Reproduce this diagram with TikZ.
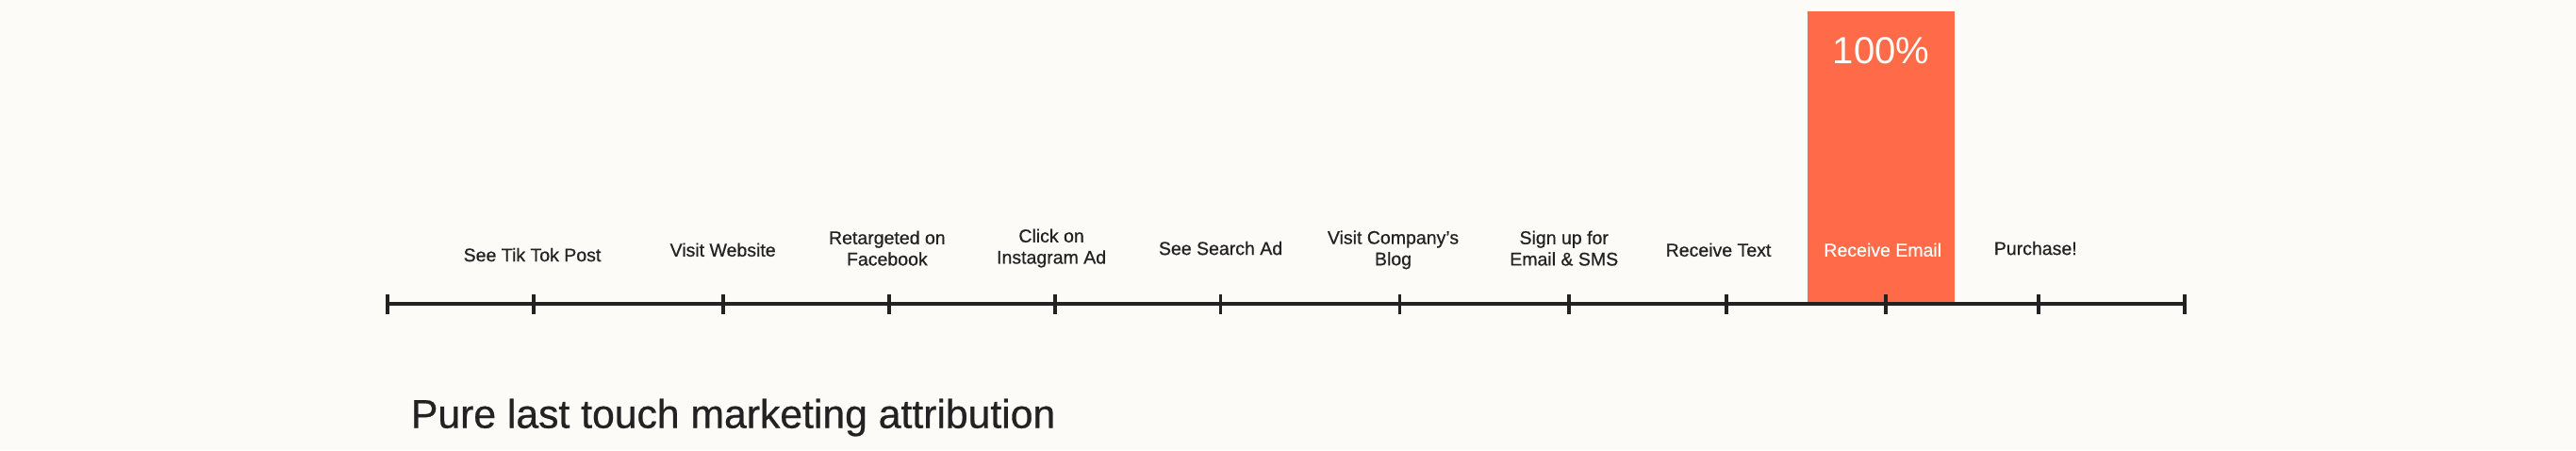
\documentclass[tikz,border=0pt]{standalone}
\usepackage{fontspec}
\setmainfont{Liberation Sans}
\newfontfamily\medfont[FakeBold=0.6]{Liberation Sans}
\definecolor{bg}{HTML}{FDFBF8}
\definecolor{org}{HTML}{FF6A48}
\definecolor{ink}{HTML}{222222}
\begin{document}
\begin{tikzpicture}[x=1pt,y=-1pt,
  lbl/.style={align=center,font=\medfont\fontsize{11.2}{13}\selectfont,text=ink,inner sep=0pt},
  tk/.style={line width=2.2pt,draw=ink}]
\fill[bg] (0,0) rectangle (1568,274);
\useasboundingbox (0,0) rectangle (1568,274);
\fill[org] (1100,7) rectangle (1190,185);
\node[font=\fontsize{23}{24}\selectfont,text=bg] (pct) at (1145,31) {100\%};
\coordinate (a0) at (236,185);
\coordinate (a1) at (1330,185);
\draw[tk] (a0) -- (a1);
\foreach \x in {236,325,440,541,642,743,852,955,1051,1148,1241,1330}
  \draw[tk] (\x,179) -- (\x,191);
\node[lbl] (l1) at (324,155) {See Tik Tok Post};
\node[lbl] (l2) at (440,152) {Visit Website};
\node[lbl] (l3) at (540,151) {Retargeted on\\Facebook};
\node[lbl] (l4) at (640,151) {Click on\\Instagram Ad};
\node[lbl] (l5) at (743,151) {See Search Ad};
\node[lbl] (l6) at (848,152) {Visit Company’s\\Blog};
\node[lbl] (l7) at (952,151) {Sign up for\\Email \& SMS};
\node[lbl] (l8) at (1046,152) {Receive Text};
\node[lbl,text=bg] (l9) at (1146,152) {Receive Email};
\node[lbl] (l10) at (1239,151) {Purchase!};
\node[anchor=west,font=\medfont\fontsize{24.5}{26}\selectfont,text=ink,inner sep=0pt] (title) at (250,254) {Pure last touch marketing attribution};
\end{tikzpicture}
\end{document}
